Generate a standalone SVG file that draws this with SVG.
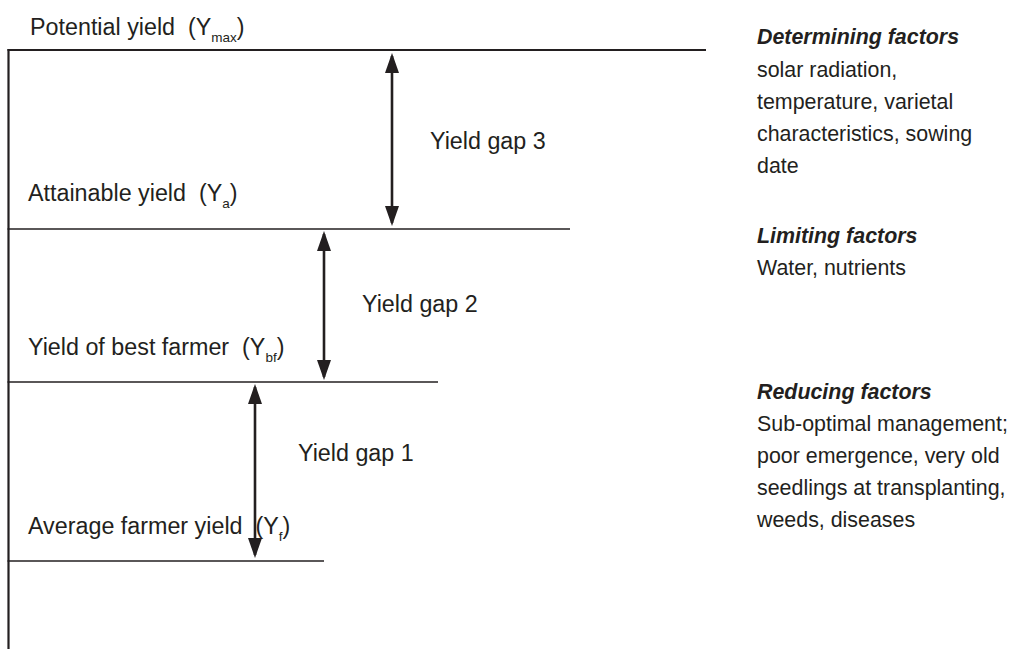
<svg xmlns="http://www.w3.org/2000/svg" width="1010" height="649" viewBox="0 0 1010 649">
<style>
  text { font-family: "Liberation Sans", Arial, sans-serif; fill: #231f20; white-space: pre; }
  .lbl { font-size: 23.3px; }
  .gap { font-size: 23.3px; }
  .rt { font-size: 21.4px; }
  .hd { font-size: 21.4px; font-weight: bold; font-style: italic; }
  .sub { font-size: 13.5px; }
  .level { stroke: #231f20; stroke-width: 1.4; fill: none; }
  .axis { stroke: #231f20; stroke-width: 2.2; fill: none; }
  .arrow { stroke: #231f20; stroke-width: 2.6; fill: none; marker-start: url(#head); marker-end: url(#head); }
</style>
<defs>
  <marker id="head" viewBox="0 0 20 14" refX="17" refY="7" markerWidth="20" markerHeight="14" markerUnits="userSpaceOnUse" orient="auto-start-reverse">
    <path d="M0,0 L20,7 L0,14 z" fill="#231f20"/>
  </marker>
</defs>
<rect width="1010" height="649" fill="#ffffff"/>

<g id="axis">
  <line class="axis" x1="8.5" y1="49" x2="8.5" y2="649"/>
  <line class="axis" x1="7.5" y1="50" x2="706" y2="50"/>
</g>

<g id="potential">
  <text class="lbl" x="30" y="35">Potential yield  (Y<tspan class="sub" dy="7">max</tspan><tspan dy="-7">)</tspan></text>
</g>

<g id="attainable">
  <line class="level" x1="7.5" y1="229" x2="570" y2="229"/>
  <text class="lbl" x="28" y="201">Attainable yield  (Y<tspan class="sub" dy="7">a</tspan><tspan dy="-7">)</tspan></text>
</g>

<g id="bestfarmer">
  <line class="level" x1="7.5" y1="382" x2="438" y2="382"/>
  <text class="lbl" x="28" y="355">Yield of best farmer  (Y<tspan class="sub" dy="7">bf</tspan><tspan dy="-7">)</tspan></text>
</g>

<g id="average">
  <line class="level" x1="7.5" y1="561" x2="324" y2="561"/>
  <text class="lbl" x="28" y="534">Average farmer yield  (Y<tspan class="sub" dy="7">f</tspan><tspan dy="-7">)</tspan></text>
</g>

<g id="connectors">
  <line class="arrow" x1="392" y1="56" x2="392" y2="223"/>
  <line class="arrow" x1="324" y1="234" x2="324" y2="377"/>
  <line class="arrow" x1="255" y1="387" x2="255" y2="555"/>
</g>

<g id="gaps">
  <text class="gap" x="430" y="149">Yield gap 3</text>
  <text class="gap" x="362" y="312">Yield gap 2</text>
  <text class="gap" x="298" y="461">Yield gap 1</text>
</g>

<g id="determining">
  <text class="hd" x="757" y="44">Determining factors</text>
  <text class="rt" x="757" y="77">solar radiation,</text>
  <text class="rt" x="757" y="109">temperature, varietal</text>
  <text class="rt" x="757" y="141">characteristics, sowing</text>
  <text class="rt" x="757" y="173">date</text>
</g>

<g id="limiting">
  <text class="hd" x="757" y="243">Limiting factors</text>
  <text class="rt" x="757" y="275">Water, nutrients</text>
</g>

<g id="reducing">
  <text class="hd" x="757" y="399">Reducing factors</text>
  <text class="rt" x="757" y="431">Sub-optimal management;</text>
  <text class="rt" x="757" y="463">poor emergence, very old</text>
  <text class="rt" x="757" y="495">seedlings at transplanting,</text>
  <text class="rt" x="757" y="527">weeds, diseases</text>
</g>
</svg>
